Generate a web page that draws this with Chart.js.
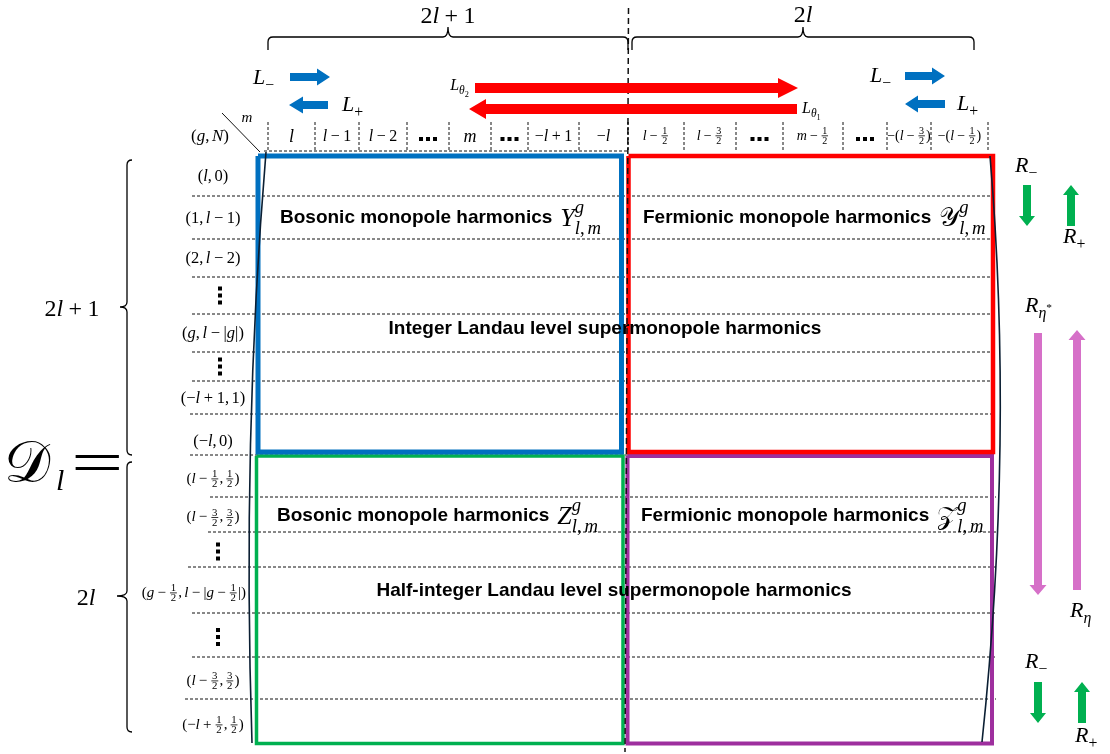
<!DOCTYPE html>
<html lang="en">
<head>
<meta charset="UTF-8">
<script src="https://cdn.jsdelivr.net/npm/chart.js@4.4.0/dist/chart.umd.min.js"></script>
<style>
  body { margin: 0; background: #fff; }
  #wrap { width: 1110px; height: 754px; }
</style>
</head>
<body>
<div id="wrap"><canvas id="diagram" width="1110" height="754"></canvas></div>
<script>
// ---- content of the diagram ----
// column headers (m values), '...' = dots cell
const bosonCols = ['l', 'l-1', 'l-2', '...', 'm', '...', '-l+1', '-l'];
const fermionCols = ['l-{1/2}', 'l-{3/2}', '...', 'm-{1/2}', '...', '-(l-{3/2})', '-(l-{1/2})'];
// row headers (g, N), ':' = vertical dots
const integerRows = ['(l,0)', '(1,l-1)', '(2,l-2)', ':', '(g,l-|g|)', ':', '(-l+1,1)', '(-l,0)'];
const halfRows = ['(l-{1/2},{1/2})', '(l-{3/2},{3/2})', ':', '(g-{1/2},l-|g-{1/2}|)', ':', '(l-{3/2},{3/2})', '(-l+{1/2},{1/2})'];
const blockTitles = ['Bosonic monopole harmonics', 'Fermionic monopole harmonics', 'Bosonic monopole harmonics', 'Fermionic monopole harmonics'];
const blockSymbols = ['Y^g_{l,m}', '𝒴^g_{l,m}', 'Z^g_{l,m}', '𝒵^g_{l,m}'];
const bandTitles = ['Integer Landau level supermonopole harmonics', 'Half-integer Landau level supermonopole harmonics'];
const braceLabels = ['2l+1', '2l', '2l+1', '2l'];
const ladderLabels = ['L_-', 'L_+', 'L_{θ_2}', 'L_{θ_1}', 'L_-', 'L_+', 'R_-', 'R_+', 'R_{η^*}', 'R_η', 'R_-', 'R_+'];

// ---- layout (diagram units = pixels of the 1110x754 frame) ----
const colEdgesB = [268, 315, 359, 407, 449, 491, 528, 579, 628];
const colEdgesF = [628, 684, 736, 783, 843, 887, 931, 988];
const rowEdgesI = [155, 196, 239, 277, 314, 352, 381, 414, 455];
const rowEdgesH = [455, 497, 532, 567, 613, 657, 699, 745];
const rowLineStartI = [192, 192, 192, 192, 192, 192, 190, 190];
const rowLineStartH = [210, 208, 188, 192, 192, 185];
const boxes = [
  { x0: 258, x1: 621.5, y0: 156, y1: 452, color: '#0070c0', w: 5 },
  { x0: 628.5, x1: 993, y0: 156, y1: 452, color: '#ff0000', w: 4.5 },
  { x0: 256.5, x1: 623, y0: 456, y1: 743.5, color: '#00b050', w: 3.5 },
  { x0: 627.5, x1: 992, y0: 456, y1: 743.5, color: '#9e2f9e', w: 4 }
];
const titlePos = [[280, 218], [643, 218], [277, 516], [641, 516]];
const bandPos = [[605, 329], [614, 591]];
// [x, y, size, align]
const bracePos = [[448, 15, 24, 'center'], [803, 14, 24, 'center'], [72, 308, 24, 'center'], [86, 597, 24, 'center']];
const ladderPos = [
  [253, 77, 22, 'left'], [342, 104, 22, 'left'], [470, 85, 16, 'right'], [802, 108, 16, 'left'],
  [870, 75, 22, 'left'], [957, 103, 22, 'left'],
  [1015, 165, 22, 'left'], [1063, 236, 22, 'left'], [1025, 305, 22, 'left'], [1070, 610, 22, 'left'],
  [1025, 661, 22, 'left'], [1075, 735, 22, 'left']
];
const arrows = [
  { a: [290, 77], b: [330, 77], w: 8, hw: 17, hl: 13, c: '#0070c0' },
  { a: [328, 105], b: [289, 105], w: 8, hw: 17, hl: 14, c: '#0070c0' },
  { a: [905, 76], b: [945, 76], w: 8, hw: 17, hl: 13, c: '#0070c0' },
  { a: [945, 104], b: [905, 104], w: 8, hw: 17, hl: 13, c: '#0070c0' },
  { a: [475, 88], b: [798, 88], w: 10, hw: 20, hl: 20, c: '#ff0000' },
  { a: [797, 109], b: [469, 109], w: 10, hw: 20, hl: 17, c: '#ff0000' },
  { a: [1027, 185], b: [1027, 226], w: 8, hw: 16, hl: 10, c: '#00b050' },
  { a: [1071, 226], b: [1071, 185], w: 8, hw: 16, hl: 10, c: '#00b050' },
  { a: [1038, 682], b: [1038, 723], w: 8, hw: 16, hl: 10, c: '#00b050' },
  { a: [1082, 723], b: [1082, 682], w: 8, hw: 16, hl: 10, c: '#00b050' },
  { a: [1038, 333], b: [1038, 595], w: 8, hw: 17, hl: 10, c: '#d670c8' },
  { a: [1077, 590], b: [1077, 330], w: 8, hw: 17, hl: 10, c: '#d670c8' }
];

// ---- line datasets ----
const datasets = [];
function seg(pts, color, width, dash, order) {
  datasets.push({
    data: pts.map(p => ({ x: p[0], y: p[1] })),
    showLine: true, pointRadius: 0, borderColor: color, borderWidth: width,
    borderDash: dash || [], borderJoinStyle: 'miter', borderCapStyle: 'butt',
    tension: 0, order: order, fill: false
  });
}
rowEdgesI.slice(1).forEach((y, i) => seg([[rowLineStartI[i], y], [995, y]], '#111', 1, [3, 2], 5));
rowEdgesH.slice(1, -1).forEach((y, i) => seg([[rowLineStartH[i], y], [996, y]], '#111', 1, [3, 2], 5));
colEdgesB.forEach(x => seg([[x, 122], [x, 152]], '#111', 1, [3, 2], 5));
colEdgesF.forEach(x => seg([[x, 122], [x, 152]], '#111', 1, [3, 2], 5));
seg([[264, 151], [628, 151]], '#111', 1, [3, 2], 5);
seg([[222, 113], [260, 152]], '#111', 1, [], 5);
boxes.forEach(b => seg([[b.x0, b.y0], [b.x1, b.y0], [b.x1, b.y1], [b.x0, b.y1], [b.x0, b.y0]], b.color, b.w, [], 2));
seg([[628.5, 8], [625, 752]], '#111', 1.5, [6, 4], 1);

// ---- tiny math typesetter ----
const SERIF = '"Liberation Serif", "DejaVu Serif", serif';
function fontFor(ch, size) {
  return (/[a-zA-Zθη]/.test(ch) ? 'italic ' : '') + size + 'px ' + SERIF;
}
function readGroup(ch, i) {
  let depth = 0, j = i;
  for (; j < ch.length; j++) {
    if (ch[j] === '{') depth++;
    else if (ch[j] === '}') { depth--; if (!depth) break; }
  }
  return [ch.slice(i + 1, j).join(''), j + 1];
}
function parseMath(s) {
  const ch = Array.from(s), out = [];
  let i = 0;
  while (i < ch.length) {
    const c = ch[i];
    if (c === '_' || c === '^') {
      let arg;
      if (ch[i + 1] === '{') [arg, i] = readGroup(ch, i + 1);
      else { arg = ch[i + 1]; i += 2; }
      let last = out[out.length - 1];
      if (!last || !last.script) { last = { script: true }; out.push(last); }
      last[c === '_' ? 'sub' : 'sup'] = parseMath(arg);
    } else if (c === '{') {
      let g;
      [g, i] = readGroup(ch, i);
      out.push({ frac: g.split('/') });
    } else {
      out.push({ ch: c === '-' ? '−' : c });
      i++;
    }
  }
  return out;
}
function runMath(ctx, toks, x, base, size, draw) {
  let cx = x;
  toks.forEach((t, k) => {
    if (t.ch) {
      const prev = toks[k - 1];
      const binary = /[−+=]/.test(t.ch) && prev && !(prev.ch && /[(,]/.test(prev.ch));
      const pad = binary ? size * 0.22 : 0;
      cx += pad;
      ctx.font = fontFor(t.ch, size);
      if (draw) ctx.fillText(t.ch, cx, base);
      cx += ctx.measureText(t.ch).width + pad;
      if (t.ch === ',') cx += size * 0.15;
    } else if (t.frac) {
      const fs = size * 0.72;
      ctx.font = fontFor('1', fs);
      const w = Math.max(ctx.measureText(t.frac[0]).width, ctx.measureText(t.frac[1]).width) + size * 0.2;
      if (draw) {
        const bar = base - size * 0.27;
        ctx.textAlign = 'center';
        ctx.fillText(t.frac[0], cx + w / 2, bar - size * 0.1);
        ctx.fillText(t.frac[1], cx + w / 2, bar + size * 0.08 + fs * 0.68);
        ctx.textAlign = 'left';
        ctx.fillRect(cx + size * 0.05, bar - 0.4, w - size * 0.1, 0.8);
      }
      cx += w + size * 0.04;
    } else if (t.script) {
      const ss = size * 0.72;
      let w = 0;
      if (t.sup) w = Math.max(w, runMath(ctx, t.sup, cx, base - size * (t.sub ? 0.48 : 0.4), ss, draw));
      if (t.sub) w = Math.max(w, runMath(ctx, t.sub, cx, base + size * (t.sup ? 0.32 : 0.24), ss, draw));
      cx += w + size * 0.04;
    }
  });
  return cx - x;
}
function drawMath(ctx, s, x, y, size, align, maxRight) {
  const toks = parseMath(s);
  ctx.textAlign = 'left';
  ctx.textBaseline = 'alphabetic';
  const w = runMath(ctx, toks, 0, 0, size, false);
  let x0 = align === 'center' ? x - w / 2 : align === 'right' ? x - w : x;
  if (maxRight !== undefined) x0 = Math.min(x0, maxRight - w);
  runMath(ctx, toks, x0, y + size * 0.33, size, true);
  return w;
}
function dots(ctx, x, y, vertical) {
  for (let k = -1; k <= 1; k++) {
    const dx = vertical ? 0 : k * 7, dy = vertical ? k * 7 : 0;
    ctx.fillRect(x + dx - 2, y + dy - 2, 4, 4);
  }
}
function arrow(ctx, a, b, w, hw, hl, color) {
  const dx = b[0] - a[0], dy = b[1] - a[1], len = Math.hypot(dx, dy);
  const ux = dx / len, uy = dy / len, nx = -uy, ny = ux;
  const bx = b[0] - ux * hl, by = b[1] - uy * hl;
  ctx.fillStyle = color;
  ctx.beginPath();
  ctx.moveTo(a[0] + nx * w / 2, a[1] + ny * w / 2);
  ctx.lineTo(bx + nx * w / 2, by + ny * w / 2);
  ctx.lineTo(bx + nx * hw / 2, by + ny * hw / 2);
  ctx.lineTo(b[0], b[1]);
  ctx.lineTo(bx - nx * hw / 2, by - ny * hw / 2);
  ctx.lineTo(bx - nx * w / 2, by - ny * w / 2);
  ctx.lineTo(a[0] - nx * w / 2, a[1] - ny * w / 2);
  ctx.closePath();
  ctx.fill();
}

const TITLE_FONT = 'bold 19px "Liberation Sans", Arial, sans-serif';

const overlay = {
  id: 'overlay',
  afterDatasetsDraw(chart) {
    const ctx = chart.ctx;
    const X = v => chart.scales.x.getPixelForValue(v);
    const Y = v => chart.scales.y.getPixelForValue(v);
    ctx.save();
    ctx.fillStyle = '#000';
    ctx.strokeStyle = '#000';

    // column headers
    const cellCenter = (edges, i) => (X(edges[i]) + X(edges[i + 1])) / 2;
    bosonCols.forEach((s, i) => {
      const cx = cellCenter(colEdgesB, i);
      if (s === '...') dots(ctx, cx, Y(139), false);
      else drawMath(ctx, s, cx, Y(136), s.length < 2 ? 18 : 16, 'center');
    });
    fermionCols.forEach((s, i) => {
      const cx = cellCenter(colEdgesF, i);
      if (s === '...') dots(ctx, cx, Y(139), false);
      else drawMath(ctx, s, cx, Y(135), 14, 'center');
    });

    // row headers
    integerRows.forEach((s, i) => {
      const cy = (Y(rowEdgesI[i]) + Y(rowEdgesI[i + 1])) / 2 + (i === integerRows.length - 1 ? 6 : 0);
      if (s === ':') dots(ctx, X(220), cy, true);
      else drawMath(ctx, s, X(213), cy, 16.5, 'center', X(247));
    });
    halfRows.forEach((s, i) => {
      const cy = (Y(rowEdgesH[i]) + Y(rowEdgesH[i + 1])) / 2 + 2;
      if (s === ':') dots(ctx, X(218), cy, true);
      else drawMath(ctx, s, X(213), cy, 15, 'center', X(246));
    });

    // m and (g,N) corner
    drawMath(ctx, 'm', X(247), Y(117), 15, 'center');
    drawMath(ctx, '(g,N)', X(210), Y(135), 17, 'center');

    // block titles
    blockTitles.forEach((t, i) => {
      ctx.font = TITLE_FONT;
      ctx.textAlign = 'left';
      ctx.textBaseline = 'middle';
      const [x, y] = titlePos[i];
      ctx.fillText(t, X(x), Y(y));
      const w = ctx.measureText(t).width;
      drawMath(ctx, blockSymbols[i], X(x) + w + 8, Y(y) - 1, 26, 'left');
    });
    bandTitles.forEach((t, i) => {
      ctx.font = TITLE_FONT;
      ctx.textAlign = 'center';
      ctx.textBaseline = 'middle';
      ctx.fillText(t, X(bandPos[i][0]), Y(bandPos[i][1]));
    });

    // braces
    ctx.lineWidth = 1.3;
    const hBrace = (x1, x2, y, drop, tip, r) => {
      const xm = (x1 + x2) / 2;
      ctx.beginPath();
      ctx.moveTo(x1, y + drop);
      ctx.lineTo(x1, y + r);
      ctx.quadraticCurveTo(x1, y, x1 + r, y);
      ctx.lineTo(xm - r, y);
      ctx.quadraticCurveTo(xm, y, xm, y - tip);
      ctx.quadraticCurveTo(xm, y, xm + r, y);
      ctx.lineTo(x2 - r, y);
      ctx.quadraticCurveTo(x2, y, x2, y + r);
      ctx.lineTo(x2, y + drop);
      ctx.stroke();
    };
    const vBrace = (x, y1, y2, ym, tip, r) => {
      ctx.beginPath();
      ctx.moveTo(x + r, y1);
      ctx.quadraticCurveTo(x, y1, x, y1 + r);
      ctx.lineTo(x, ym - r);
      ctx.quadraticCurveTo(x, ym, x - tip, ym);
      ctx.quadraticCurveTo(x, ym, x, ym + r);
      ctx.lineTo(x, y2 - r);
      ctx.quadraticCurveTo(x, y2, x + r, y2);
      ctx.stroke();
    };
    hBrace(X(268), X(628), Y(37), 13, 10, 5);
    hBrace(X(632), X(974), Y(37), 13, 10, 5);
    vBrace(X(127), Y(160), Y(455), Y(307), 7, 5);
    vBrace(X(127), Y(462), Y(732), Y(596), 10, 5);
    braceLabels.forEach((s, i) => {
      const [x, y, size, al] = bracePos[i];
      drawMath(ctx, s, X(x), Y(y), size, al);
    });

    // large matrix parentheses
    ctx.strokeStyle = '#0b1f33';
    ctx.lineWidth = 1.6;
    ctx.beginPath();
    ctx.moveTo(X(266), Y(152));
    ctx.quadraticCurveTo(X(242), Y(440), X(252), Y(743));
    ctx.stroke();
    ctx.beginPath();
    ctx.moveTo(X(990), Y(156));
    ctx.quadraticCurveTo(X(1014), Y(440), X(982), Y(742));
    ctx.stroke();

    // ladder operator arrows and labels
    arrows.forEach(a => arrow(ctx, [X(a.a[0]), Y(a.a[1])], [X(a.b[0]), Y(a.b[1])], a.w, a.hw, a.hl, a.c));
    ctx.fillStyle = '#000';
    ladderLabels.forEach((s, i) => {
      const [x, y, size, al] = ladderPos[i];
      drawMath(ctx, s, X(x), Y(y), size, al);
    });

    // D_l =
    ctx.textAlign = 'left';
    ctx.textBaseline = 'alphabetic';
    ctx.font = '58px "DejaVu Serif", "DejaVu Sans", serif';
    ctx.fillText('𝒟', X(4), Y(482));
    ctx.font = 'italic 30px ' + SERIF;
    ctx.fillText('l', X(56), Y(490));
    ctx.save();
    ctx.translate(X(71), Y(482));
    ctx.scale(1.55, 1);
    ctx.font = '60px ' + SERIF;
    ctx.fillText('=', 0, 0);
    ctx.restore();
    ctx.restore();
  }
};

new Chart(document.getElementById('diagram'), {
  type: 'scatter',
  data: { datasets: datasets },
  options: {
    responsive: false,
    animation: false,
    events: [],
    layout: { padding: 0 },
    plugins: { legend: { display: false }, tooltip: { enabled: false } },
    scales: {
      x: { type: 'linear', min: 0, max: 1110, display: false },
      y: { type: 'linear', min: 0, max: 754, reverse: true, display: false }
    }
  },
  plugins: [overlay]
});
</script>
</body>
</html>
